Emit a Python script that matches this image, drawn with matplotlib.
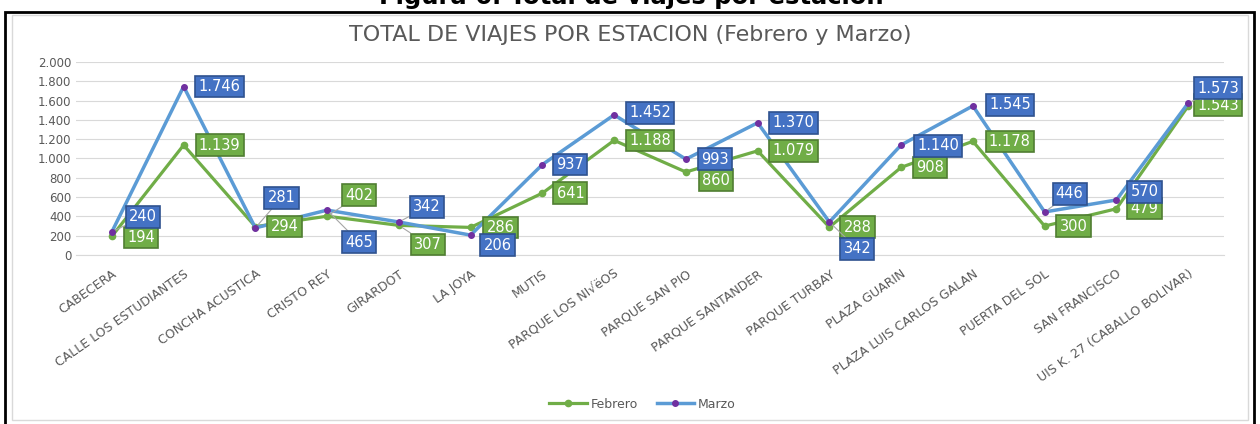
import matplotlib.pyplot as plt
from matplotlib.patches import Rectangle

# datos
estaciones = ['CABECERA', 'CALLE LOS ESTUDIANTES', 'CONCHA ACUSTICA', 'CRISTO REY',
              'GIRARDOT', 'LA JOYA', 'MUTIS', 'PARQUE LOS NI\u221a\u00ebOS',
              'PARQUE SAN PIO', 'PARQUE SANTANDER', 'PARQUE TURBAY', 'PLAZA GUARIN',
              'PLAZA LUIS CARLOS GALAN', 'PUERTA DEL SOL', 'SAN FRANCISCO',
              'UIS K. 27 (CABALLO BOLIVAR)']
febrero = [194, 1139, 294, 402, 307, 286, 641, 1188, 860, 1079, 288, 908, 1178, 300, 479, 1543]
marzo = [240, 1746, 281, 465, 342, 206, 937, 1452, 993, 1370, 342, 1140, 1545, 446, 570, 1573]

# posicion de las etiquetas (pixeles respecto al punto)
off_mar = [(31, 15), (36, 0), (26, 30), (32, -32), (28, 15), (27, -10), (28, 0), (36, 2),
           (29, 0), (36, 0), (28, -27), (37, -1), (37, 1), (25, 18), (28, 8), (30, 15)]
off_feb = [(29, -1), (36, 0), (29, 0), (32, 21), (29, -19), (30, 0), (28, 0), (36, 0),
           (30, -8), (36, 0), (28, 0), (29, 0), (37, 0), (29, 0), (28, 0), (30, 1)]

def fmt(v):
    return f'{v:,}'.replace(',', '.')

gris = '#595959'
fig = plt.figure(figsize=(12.6, 4.24), dpi=100)

# marcos
fig.patches.append(Rectangle((12 / 1260, 4 / 424), 1236 / 1260, 405 / 424, transform=fig.transFigure,
                             fill=False, edgecolor='#D9D9D9', lw=1))
fig.patches.append(Rectangle((5 / 1260, -0.01), 1249 / 1260, 1.01 - 12 / 424, transform=fig.transFigure,
                             fill=False, edgecolor='black', lw=2))
fig.text(631 / 1260, 1 - 4 / 424, 'Figura 6. Total de viajes por estación', ha='center', va='baseline',
         fontsize=17.5, fontweight='bold', color='black')
fig.text(630 / 1260, 1 - 35 / 424, 'TOTAL DE VIAJES POR ESTACION (Febrero y Marzo)', ha='center',
         va='center', color=gris, fontsize=16)

ax = fig.add_axes([76 / 1260, 1 - 255 / 424, 1148 / 1260, 193 / 424])
x = list(range(len(estaciones)))
ax.plot(x, febrero, color='#70AD47', lw=2.3, marker='o', ms=4.5, label='Febrero', zorder=3)
ax.plot(x, marzo, color='#5B9BD5', lw=2.5, marker='o', ms=4, mfc='#7030A0', mec='#7030A0',
        label='Marzo', zorder=4)

def etiquetas(vals, offs, fc, ec):
    for i, v in enumerate(vals):
        dx, dy = offs[i]
        lejos = abs(dy) > 12
        ax.annotate(fmt(v), (i, v), xytext=(dx, dy), textcoords='offset pixels',
                    ha='center', va='center', color='white', fontsize=10.5, zorder=6,
                    bbox=dict(boxstyle='square,pad=0.22', fc=fc, ec=ec, lw=1.2),
                    arrowprops=dict(arrowstyle='-', color='#A6A6A6', lw=0.8,
                                    shrinkA=0, shrinkB=3) if lejos else None)

etiquetas(febrero, off_feb, '#70AD47', '#507E32')
etiquetas(marzo, off_mar, '#4472C4', '#2F528F')

ax.set_xlim(-0.5, len(estaciones) - 0.5)
ax.set_ylim(0, 2000)
ax.set_yticks(range(0, 2001, 200))
ax.set_yticklabels([fmt(v) for v in range(0, 2001, 200)])
ax.set_xticks(x)
ax.set_xticklabels(estaciones, rotation=35, ha='right', rotation_mode='anchor')
ax.tick_params(length=0, colors=gris, labelsize=8.5)
ax.tick_params(axis='x', pad=9, labelsize=9)
ax.grid(axis='y', color='#D9D9D9', lw=0.8)
ax.set_axisbelow(True)
for s in ['top', 'right', 'left']:
    ax.spines[s].set_visible(False)
ax.spines['bottom'].set_color('#D9D9D9')

leg = fig.legend(loc='center', bbox_to_anchor=(0.51, 1 - 404 / 424), ncol=2, frameon=False,
                 fontsize=9, handlelength=3, columnspacing=1.5, handletextpad=0.3)
for t in leg.get_texts():
    t.set_color(gris)

fig.savefig('out.png', dpi=100)
